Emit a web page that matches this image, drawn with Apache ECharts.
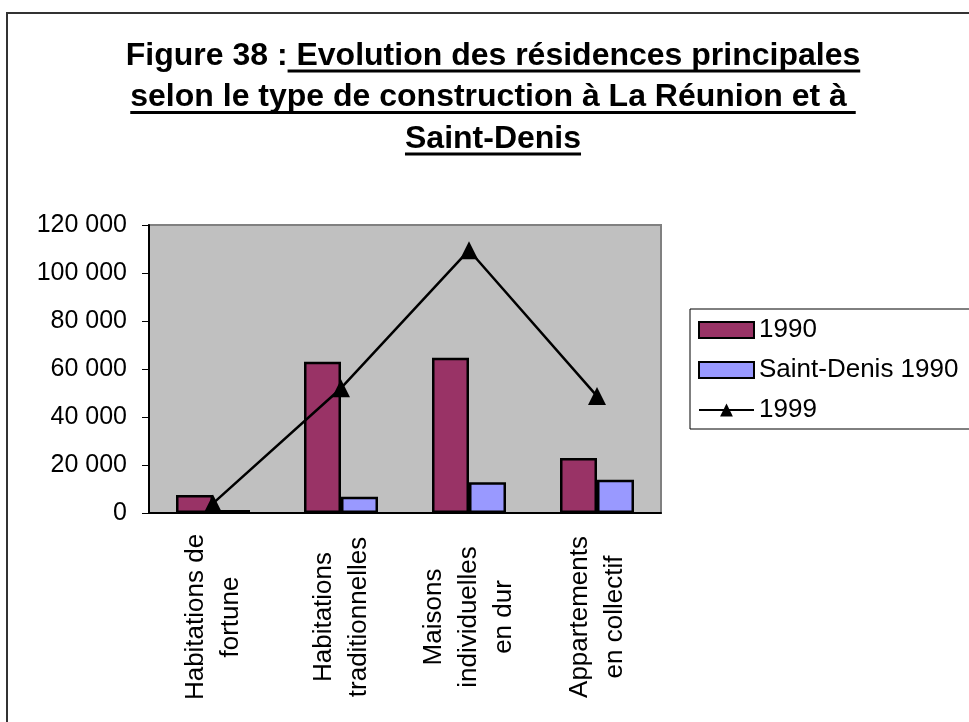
<!DOCTYPE html>
<html>
<head>
<meta charset="utf-8">
<script src="https://cdn.jsdelivr.net/npm/echarts@6/dist/echarts.min.js"></script>
<style>
  html, body { margin: 0; padding: 0; background: #fff; }
  #chart { width: 969px; height: 722px; }
</style>
</head>
<body>
<div id="chart"></div>
<script>
var categories = [
  'Habitations de\nfortune',
  'Habitations\ntraditionnelles',
  'Maisons\nindividuelles\nen dur',
  'Appartements\nen collectif'
];
var seriesNames = ['1990', 'Saint-Denis 1990', '1999'];
var reunion1990 = [7500, 63000, 64700, 22900];
var saintDenis1990 = [1200, 6800, 12800, 13900];
var reunion1999 = [4000, 52000, 109500, 48700];
var yTicks = [0, 20000, 40000, 60000, 80000, 100000, 120000];

var titleLines = [
  ['Figure 38 :', ' Evolution des résidences principales'],
  ['', 'selon le type de construction à La Réunion et à '],
  ['', 'Saint-Denis']
];

var FONT = '"Liberation Sans", Arial, Helvetica, sans-serif';

// largeur du texte pour placer les soulignements du titre
var measureCtx = document.createElement('canvas').getContext('2d');
function textWidth(str, font) {
  measureCtx.font = font;
  return measureCtx.measureText(str).width;
}

function titleGraphics() {
  var titleFont = 'bold 32px ' + FONT;
  var cx = 493, baseY = 56, step = 41.5;
  var els = [];
  titleLines.forEach(function (parts, i) {
    var w0 = textWidth(parts[0], titleFont);
    var w1 = textWidth(parts[1], titleFont);
    var x0 = cx - (w0 + w1) / 2;
    var y = baseY + i * step;
    els.push({
      type: 'text',
      style: {
        x: cx, y: y,
        text: parts[0] + parts[1],
        font: titleFont,
        fill: '#000',
        align: 'center',
        verticalAlign: 'middle'
      }
    });
    els.push({
      type: 'line',
      shape: { x1: x0 + w0, y1: y + 15, x2: x0 + w0 + w1, y2: y + 15 },
      style: { stroke: '#000', lineWidth: 3 }
    });
  });
  // cadre extérieur
  els.push({
    type: 'rect',
    shape: { x: 7, y: 13, width: 1000, height: 800 },
    style: { fill: 'none', stroke: '#333', lineWidth: 2 },
    z: -1
  });
  return els;
}

function fmtThousands(v) {
  return String(v).replace(/\B(?=(\d{3})+(?!\d))/g, ' ');
}

var chart = echarts.init(document.getElementById('chart'), null, { renderer: 'canvas' });

var option = {
  backgroundColor: '#fff',
  animation: false,
  textStyle: { fontFamily: FONT },
  graphic: titleGraphics(),
  grid: {
    left: 149, top: 225, width: 512, height: 288,
    show: true,
    backgroundColor: '#c0c0c0',
    borderColor: '#808080',
    borderWidth: 2
  },
  legend: {
    orient: 'vertical',
    left: 690, top: 309,
    padding: [8, 20, 6, 8],
    itemWidth: 55, itemHeight: 16, itemGap: 14,
    borderColor: '#000', borderWidth: 1,
    textStyle: { fontSize: 26, lineHeight: 26, color: '#000', fontFamily: FONT },
    data: [
      { name: seriesNames[0], icon: 'rect' },
      { name: seriesNames[1], icon: 'rect' },
      { name: seriesNames[2] }
    ]
  },
  xAxis: {
    type: 'category',
    data: categories,
    axisLine: { lineStyle: { color: '#000', width: 2 } },
    axisTick: { length: 8, lineStyle: { color: '#000', width: 1 } },
    axisLabel: {
      rotate: 90,
      align: 'center',
      verticalAlign: 'middle',
      margin: 104,
      fontSize: 26,
      lineHeight: 35,
      color: '#000',
      fontFamily: FONT,
      interval: 0
    }
  },
  yAxis: {
    type: 'value',
    min: yTicks[0],
    max: yTicks[yTicks.length - 1],
    interval: yTicks[1] - yTicks[0],
    splitLine: { show: false },
    axisLine: { show: true, lineStyle: { color: '#000', width: 2 } },
    axisTick: { show: true, length: 7, lineStyle: { color: '#000', width: 1 } },
    axisLabel: {
      margin: 22,
      fontSize: 25,
      color: '#000',
      fontFamily: FONT,
      formatter: fmtThousands
    }
  },
  series: [
    {
      name: seriesNames[0],
      type: 'bar',
      data: reunion1990,
      barWidth: 37,
      barGap: '0%',
      itemStyle: { color: '#993366', borderColor: '#000', borderWidth: 2.5 }
    },
    {
      name: seriesNames[1],
      type: 'bar',
      data: saintDenis1990,
      barWidth: 37,
      barGap: '0%',
      itemStyle: { color: '#9999ff', borderColor: '#000', borderWidth: 2.5 }
    },
    {
      name: seriesNames[2],
      type: 'line',
      data: reunion1999,
      symbol: 'triangle',
      symbolSize: 18,
      z: 5,
      itemStyle: { color: '#000' },
      lineStyle: { color: '#000', width: 2.5 }
    }
  ]
};
chart.setOption(option);
</script>
</body>
</html>
